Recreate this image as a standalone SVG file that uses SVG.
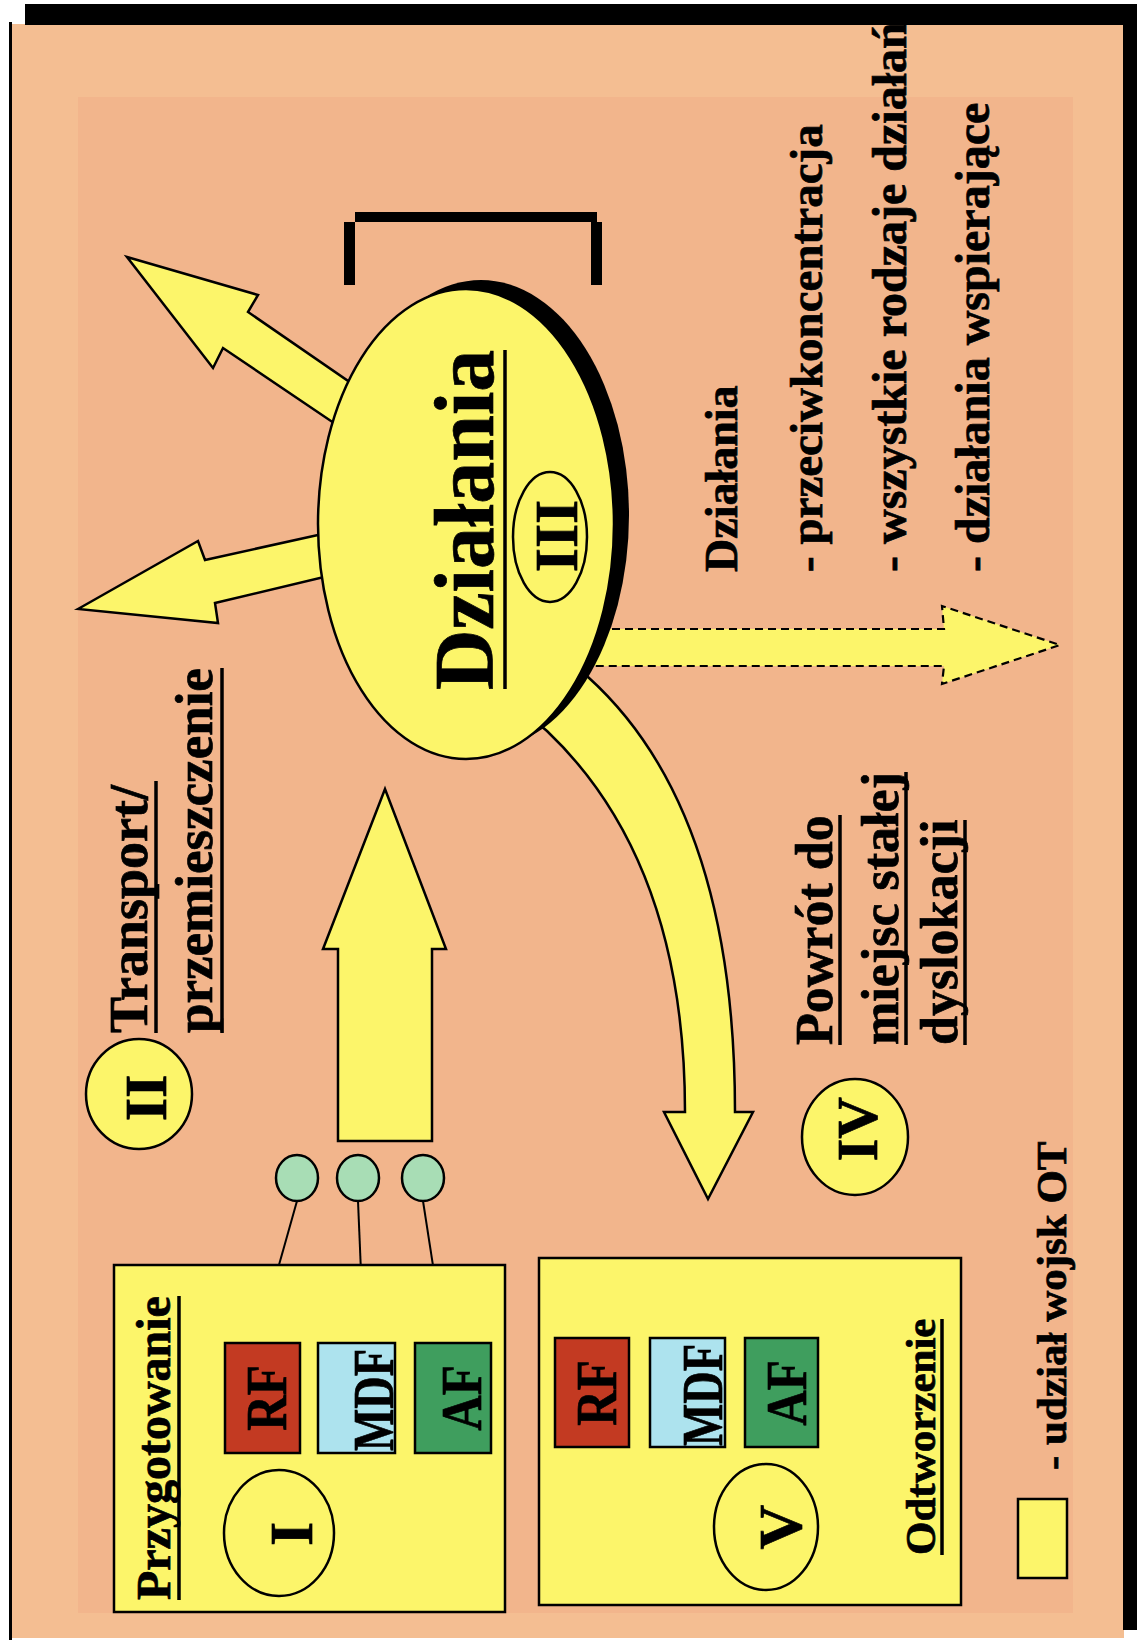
<svg xmlns="http://www.w3.org/2000/svg" width="1137" height="1644" viewBox="0 0 1137 1644">
<style>
.t{font-family:"Liberation Serif","Times New Roman",serif;font-weight:bold;fill:#000;stroke:#000;stroke-width:0.7}
.ar{fill:#FCF56A;stroke:#000;stroke-width:2.5;stroke-linejoin:miter}
.yl{fill:#FCF56A;stroke:#000;stroke-width:2.5}
.ul{stroke:#000;stroke-width:3.5}
.gc{fill:#A8DDB5;stroke:#000;stroke-width:2.5}
.bx{stroke:#000;stroke-width:2.5}
</style>
<rect x="0" y="0" width="1137" height="1644" fill="#fff"/>
<g id="frame">
<rect x="12" y="24" width="1112" height="1614" fill="#F4BE92"/>
<rect x="78" y="97" width="995" height="1516" fill="#F2B58C"/>
<rect x="25" y="4" width="1112" height="21" fill="#000"/>
<rect x="9" y="22" width="3" height="1618" fill="#000"/>
<rect x="1123" y="24" width="14" height="1606" fill="#000"/>
</g>
<g id="connectors">
<polygon class="ar" points="127,257 258,295 248,312 380,403 362,442 223,348 213,368"/>
<polygon class="ar" points="78,609 198,541 205,560 345,529 345,572 215,603 218,623"/>
<path class="ar" d="M560,650 L588,677 C680,760 735,900 735,1112 L753,1112 L708,1199 L664,1112 L685,1112 C685,930 630,810 547,731 L510,700 Z"/>
<path d="M560,629 L944,629 L942,606 L1060,645 L942,684 L944,666 L560,666 Z" fill="#FCF56A" stroke="#000" stroke-width="2.2" stroke-dasharray="8 5"/>
<polygon class="ar" points="338,1141 432,1141 432,949 446,949 385,789 323,949 338,949"/>
<line x1="297" y1="1201" x2="257" y2="1343" stroke="#000" stroke-width="2"/>
<line x1="358" y1="1201" x2="364" y2="1343" stroke="#000" stroke-width="2"/>
<line x1="423" y1="1201" x2="445" y2="1343" stroke="#000" stroke-width="2"/>
</g>
<g id="dzialania">
<ellipse cx="481" cy="515" rx="148" ry="235" fill="#000"/>
<ellipse cx="466" cy="524" rx="148" ry="235" fill="#FCF56A" stroke="#000" stroke-width="2.5"/>
<text class="t" font-size="84" text-anchor="middle" transform="translate(493,520) rotate(-90)">Działania</text>
<line class="ul" x1="505" y1="350" x2="505" y2="689" stroke-width="5"/>
<ellipse cx="550" cy="537" rx="37" ry="65" fill="none" stroke="#000" stroke-width="2.5"/>
<text class="t" font-size="62" text-anchor="middle" transform="translate(577,536) rotate(-90)">III</text>
</g>
<g id="bracket" fill="#000">
<rect x="355" y="212" width="242" height="10"/>
<rect x="344" y="222" width="11" height="63"/>
<rect x="591" y="222" width="11" height="63"/>
</g>
<g id="step2">
<ellipse class="yl" cx="139" cy="1094" rx="53" ry="55"/>
<text class="t" font-size="60" text-anchor="middle" transform="translate(166,1098) rotate(-90)">II</text>
<text class="t" font-size="54" transform="translate(147,1033) rotate(-90)">Transport/</text>
<line class="ul" x1="156" y1="1033" x2="156" y2="781"/>
<text class="t" font-size="53" transform="translate(212,1033) rotate(-90)">przemieszczenie</text>
<line class="ul" x1="222" y1="1033" x2="222" y2="668"/>
</g>
<g id="circles">
<ellipse class="gc" cx="297" cy="1178" rx="21" ry="23"/>
<ellipse class="gc" cx="358" cy="1178" rx="21" ry="23"/>
<ellipse class="gc" cx="423" cy="1178" rx="21" ry="23"/>
</g>
<g id="step1">
<rect class="yl" x="114" y="1265" width="391" height="347"/>
<text class="t" font-size="48" transform="translate(170,1600) rotate(-90)">Przygotowanie</text>
<line class="ul" x1="179" y1="1600" x2="179" y2="1296"/>
<ellipse class="yl" cx="279" cy="1533" rx="55" ry="63"/>
<text class="t" font-size="62" text-anchor="middle" transform="translate(312,1534) rotate(-90)">I</text>
<rect class="bx" x="225" y="1343" width="75" height="110" fill="#C33A22"/>
<rect class="bx" x="318" y="1343" width="77" height="110" fill="#ADE3EE"/>
<rect class="bx" x="415" y="1343" width="76" height="110" fill="#3F9E5E"/>
<text class="t" font-size="58" text-anchor="middle" transform="translate(286,1398) rotate(-90) scale(0.85,1)">RF</text>
<text class="t" font-size="56" text-anchor="middle" transform="translate(393,1400) rotate(-90) scale(0.8,1)">MDF</text>
<text class="t" font-size="58" text-anchor="middle" transform="translate(481,1398) rotate(-90) scale(0.85,1)">AF</text>
</g>
<g id="step5">
<rect class="yl" x="539" y="1258" width="422" height="347"/>
<ellipse class="yl" cx="766" cy="1527" rx="52" ry="63"/>
<text class="t" font-size="62" text-anchor="middle" transform="translate(801,1527) rotate(-90)">V</text>
<rect class="bx" x="555" y="1338" width="74" height="109" fill="#C33A22"/>
<rect class="bx" x="650" y="1338" width="75" height="109" fill="#ADE3EE"/>
<rect class="bx" x="745" y="1338" width="73" height="109" fill="#3F9E5E"/>
<text class="t" font-size="58" text-anchor="middle" transform="translate(616,1393) rotate(-90) scale(0.85,1)">RF</text>
<text class="t" font-size="56" text-anchor="middle" transform="translate(722,1395) rotate(-90) scale(0.8,1)">MDF</text>
<text class="t" font-size="58" text-anchor="middle" transform="translate(806,1393) rotate(-90) scale(0.85,1)">AF</text>
<text class="t" font-size="43" transform="translate(935,1555) rotate(-90)">Odtworzenie</text>
<line class="ul" x1="942" y1="1555" x2="942" y2="1319"/>
</g>
<g id="step4">
<ellipse class="yl" cx="855" cy="1137" rx="53" ry="58"/>
<text class="t" font-size="58" text-anchor="middle" transform="translate(877,1129) rotate(-90)">IV</text>
<text class="t" font-size="52" transform="translate(832,1045) rotate(-90)">Powrót do</text>
<line class="ul" x1="840" y1="1045" x2="840" y2="815"/>
<text class="t" font-size="52" transform="translate(898,1045) rotate(-90)">miejsc stałej</text>
<line class="ul" x1="906" y1="1045" x2="906" y2="772"/>
<text class="t" font-size="52" transform="translate(957,1045) rotate(-90)">dyslokacji</text>
<line class="ul" x1="965" y1="1045" x2="965" y2="820"/>
</g>
<g id="list">
<text class="t" font-size="46" transform="translate(737,572) rotate(-90)">Działania</text>
<text class="t" font-size="47" transform="translate(822,572) rotate(-90)">- przeciwkoncentracja</text>
<text class="t" font-size="48" transform="translate(906,572) rotate(-90)">- wszystkie rodzaje działań</text>
<text class="t" font-size="48" transform="translate(989,572) rotate(-90)">- działania wspierające</text>
</g>
<g id="legend">
<rect class="yl" x="1018" y="1499" width="49" height="79"/>
<text class="t" font-size="43" transform="translate(1066,1470) rotate(-90)">- udział wojsk OT</text>
</g>
</svg>
